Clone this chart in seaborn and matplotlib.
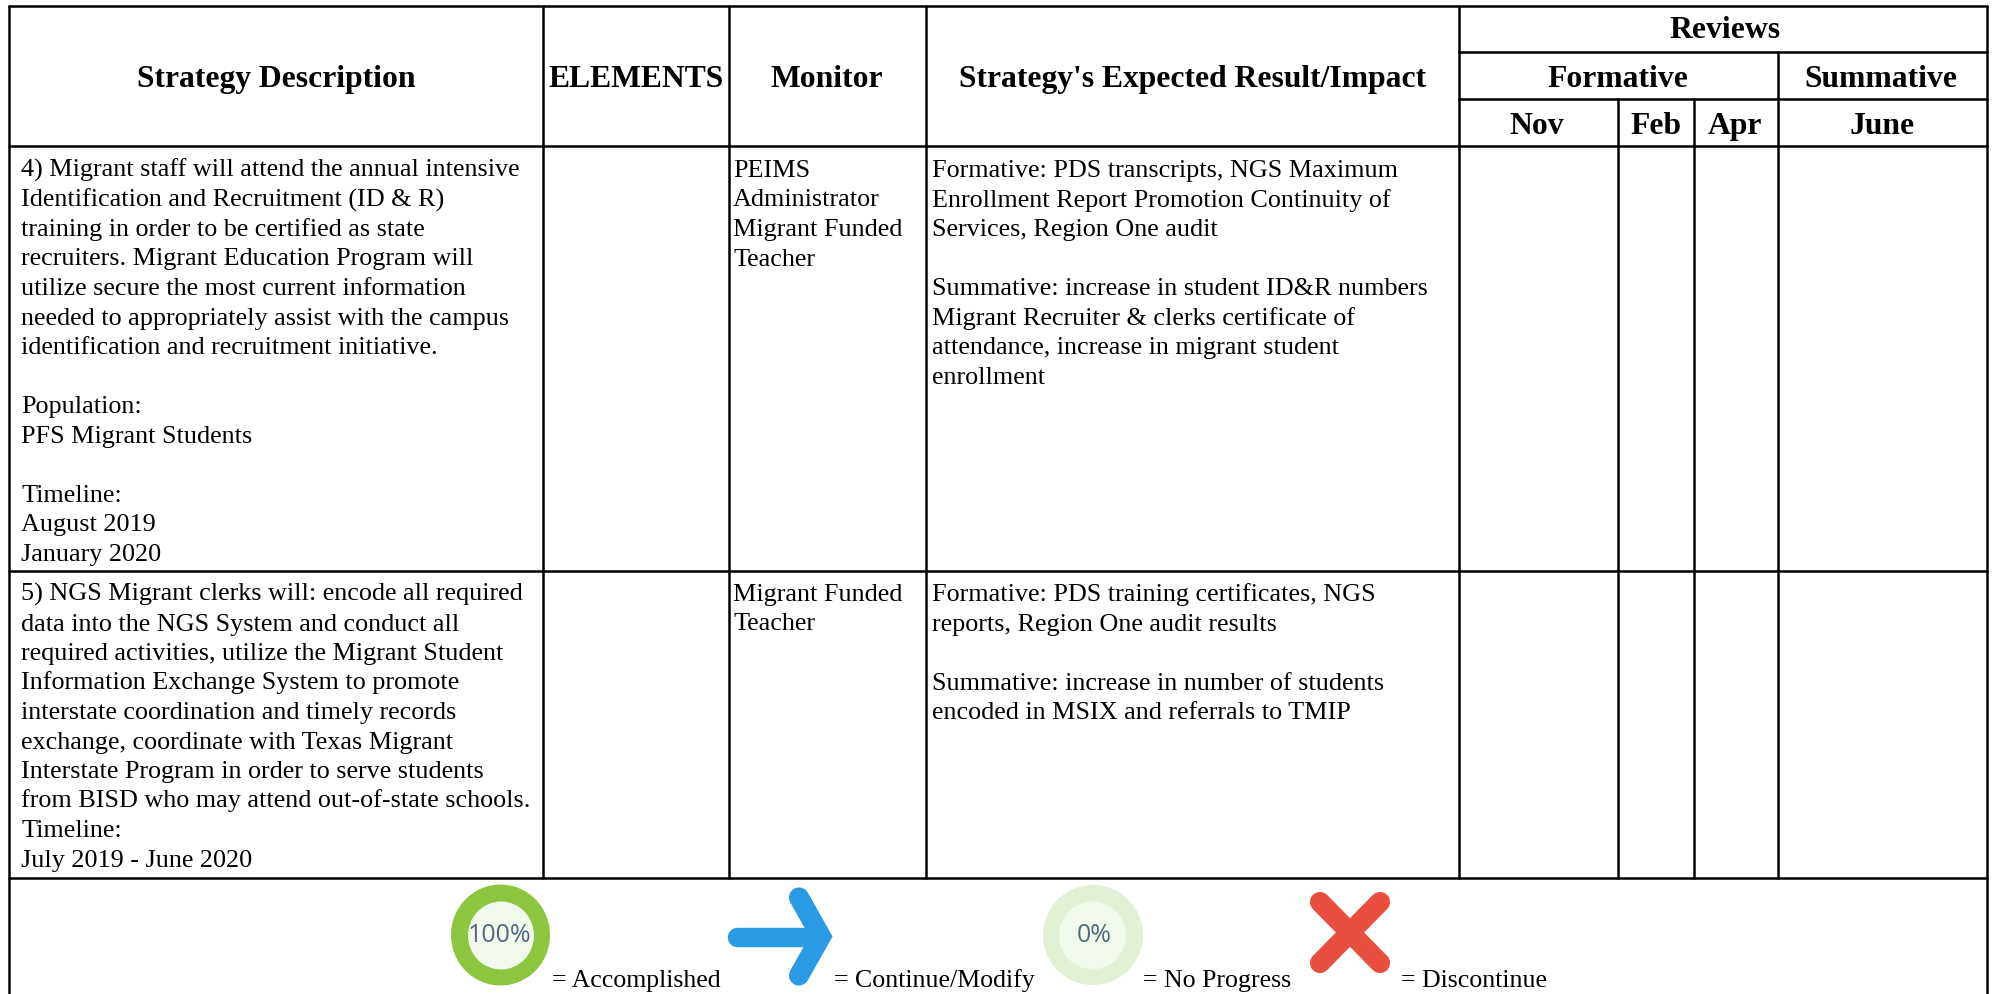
import matplotlib
matplotlib.use('Agg')
import matplotlib.pyplot as plt
import pandas as pd
import seaborn as sns
from matplotlib.patches import Ellipse

# Contenu du tableau
headers_main = ["Strategy Description", "ELEMENTS", "Monitor", "Strategy's Expected Result/Impact"]
header_top = "Reviews"
header_groups = ["Formative", "Summative"]
header_months = ["Nov", "Feb", "Apr", "June"]

row4_strategy = [
    "4) Migrant staff will attend the annual intensive",
    "Identification and Recruitment (ID & R)",
    "training in order to be certified as state",
    "recruiters. Migrant Education Program will",
    "utilize secure the most current information",
    "needed to appropriately assist with the campus",
    "identification and recruitment initiative.",
    "",
    "Population:",
    "PFS Migrant Students",
    "",
    "Timeline:",
    "August 2019",
    "January 2020",
]
row4_monitor = ["PEIMS", "Administrator", "Migrant Funded", "Teacher"]
row4_result = [
    "Formative: PDS transcripts, NGS Maximum",
    "Enrollment Report Promotion Continuity of",
    "Services, Region One audit",
    "",
    "Summative: increase in student ID&R numbers",
    "Migrant Recruiter & clerks certificate of",
    "attendance, increase in migrant student",
    "enrollment",
]
row5_strategy = [
    "5) NGS Migrant clerks will: encode all required",
    "data into the NGS System and conduct all",
    "required activities, utilize the Migrant Student",
    "Information Exchange System to promote",
    "interstate coordination and timely records",
    "exchange, coordinate with Texas Migrant",
    "Interstate Program in order to serve students",
    "from BISD who may attend out-of-state schools.",
    "Timeline:",
    "July 2019 - June 2020",
]
row5_monitor = ["Migrant Funded", "Teacher"]
row5_result = [
    "Formative: PDS training certificates, NGS",
    "reports, Region One audit results",
    "",
    "Summative: increase in number of students",
    "encoded in MSIX and referrals to TMIP",
]
legend_labels = ["= Accomplished", "= Continue/Modify", "= No Progress", "= Discontinue"]

sns.set_theme(style='white')
plt.rcParams['font.family'] = ['Liberation Serif', 'DejaVu Serif']

fig = plt.figure(figsize=(19.95, 9.95), dpi=100)
ax = fig.add_axes([0, 0, 1, 1])

# Grille du tableau : x1, x2, y1, y2
segments = [
    (9, 9, 7, 995), (543, 543, 7, 879), (729, 729, 7, 879), (926, 926, 7, 879),
    (1459, 1459, 7, 879), (1618, 1618, 100, 879), (1694, 1694, 100, 879),
    (1777.5, 1777.5, 53, 879), (1987, 1987, 7, 995),
    (9, 1987, 7, 7), (1459, 1987, 53, 53), (1459, 1987, 100, 100),
    (9, 1987, 147, 147), (9, 1987, 572, 572), (9, 1987, 879, 879),
]
rows = []
for i, (x1, x2, y1, y2) in enumerate(segments):
    rows.append({'seg': i, 'x': x1, 'y': y1})
    rows.append({'seg': i, 'x': x2, 'y': y2})
grid = pd.DataFrame(rows)
sns.lineplot(data=grid, x='x', y='y', units='seg', estimator=None, sort=False,
             color='black', linewidth=1.8, ax=ax, legend=False)
ax.set_xlim(0, 1995)
ax.set_ylim(995, 0)
ax.axis('off')

# Entetes
BOLD = 22.8
for label, x in zip(headers_main, [276, 636, 827, 1193]):
    ax.text(x, 87, label, fontsize=BOLD, fontweight='bold', ha='center', va='baseline', color='black')
ax.text(1725, 38, header_top, fontsize=BOLD, fontweight='bold', ha='center', va='baseline', color='black')
for label, x in zip(header_groups, [1618, 1881]):
    ax.text(x, 87, label, fontsize=BOLD, fontweight='bold', ha='center', va='baseline', color='black')
for label, x in zip(header_months, [1537, 1655.5, 1735, 1882]):
    ax.text(x, 134, label, fontsize=BOLD, fontweight='bold', ha='center', va='baseline', color='black')


def draw_lines(lines, x, y0):
    for i, line in enumerate(lines):
        ax.text(x, y0 + i * 29.5, line, fontsize=18.8, ha='left', va='baseline', color='black')


draw_lines(row4_strategy, 21, 177)
draw_lines(row4_monitor, 733, 177)
draw_lines(row4_result, 932, 177)
draw_lines(row5_strategy, 21, 601)
draw_lines(row5_monitor, 733, 601)
draw_lines(row5_result, 932, 601)

# Icones de la legende
ax.add_patch(Ellipse((500.5, 936), 99, 101, color='#8cc63f', lw=0))
ax.add_patch(Ellipse((501, 936.5), 66, 68, color='#f1f8ec', lw=0))
ax.text(500, 936, "100%", fontsize=18, family='Open Sans', ha='center', va='center', color='#4f6b80')

ax.plot([737, 815], [937.5, 937.5], color='#2b9ae4', lw=14, solid_capstyle='round')
ax.plot([799, 821, 799], [898.5, 937.5, 976.5], color='#2b9ae4', lw=14.5,
        solid_capstyle='round', solid_joinstyle='miter')

ax.add_patch(Ellipse((1093, 936), 100, 100, color='#e2f0d5', lw=0))
ax.add_patch(Ellipse((1092.5, 936.5), 67, 68, color='#f1f8ec', lw=0))
ax.text(1094, 935, "0%", fontsize=18, family='Open Sans', ha='center', va='center', color='#4f6b80')

ax.plot([1320, 1380], [903, 964], color='#e94f3f', lw=14.5, solid_capstyle='round')
ax.plot([1380, 1320], [903, 964], color='#e94f3f', lw=14.5, solid_capstyle='round')

for label, x in zip(legend_labels, [551.5, 834, 1143, 1401]):
    ax.text(x, 987, label, fontsize=18.6, ha='left', va='baseline', color='black')

fig.savefig('out.png', dpi=100)
plt.close()
